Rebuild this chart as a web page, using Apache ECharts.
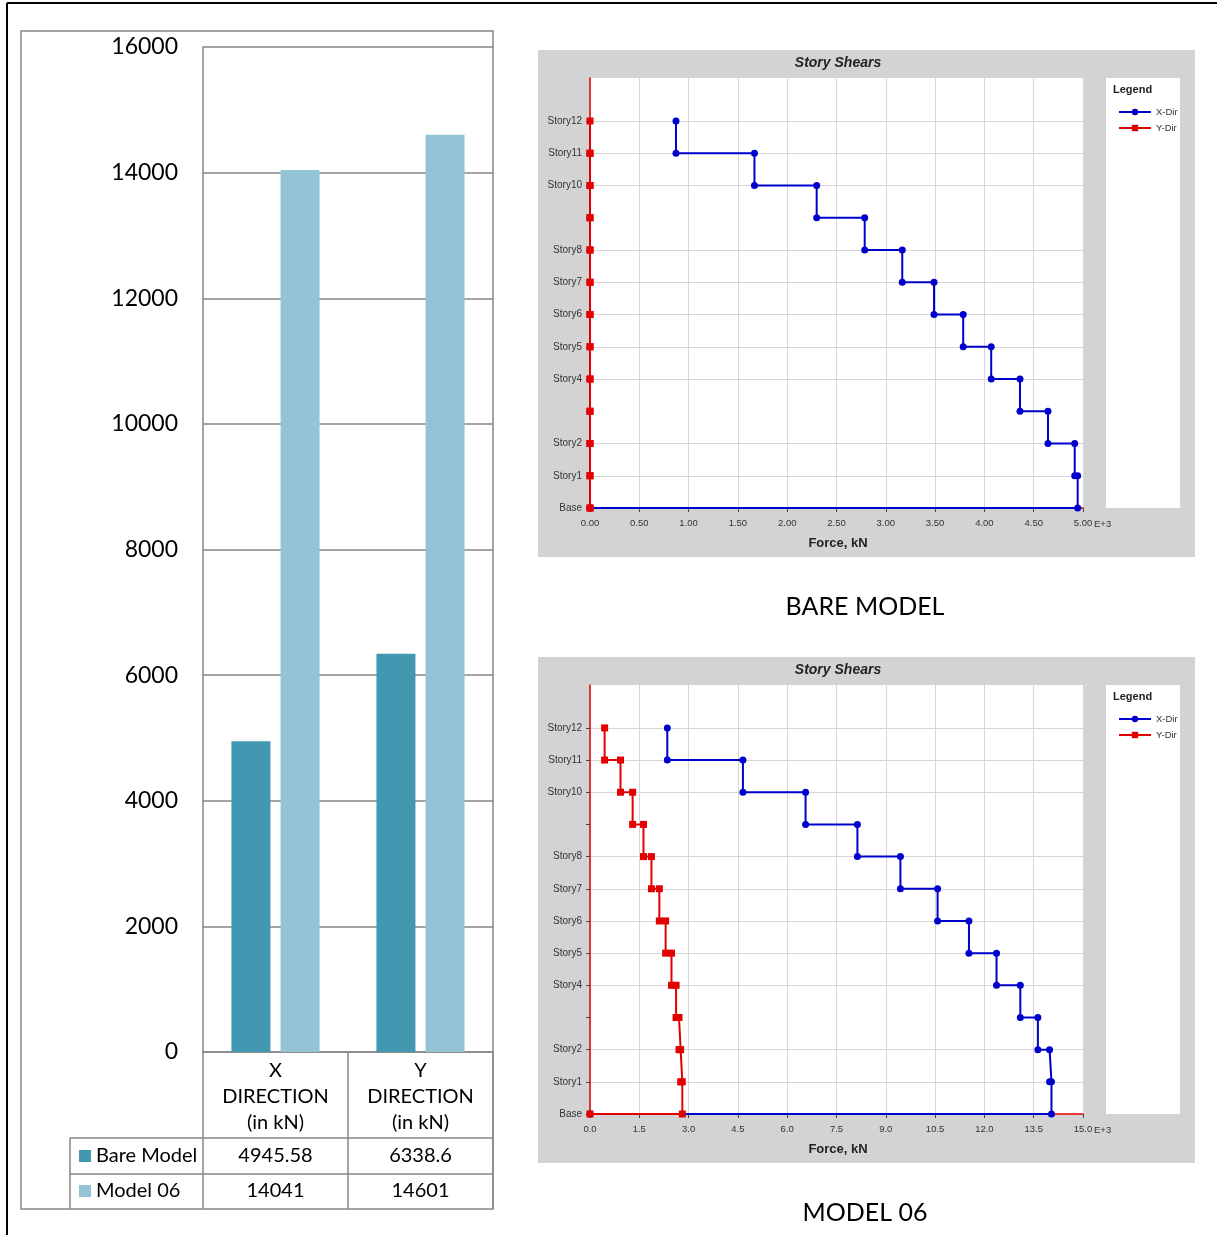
<!DOCTYPE html>
<html>
<head>
<meta charset="utf-8">
<script src="https://cdn.jsdelivr.net/npm/echarts@6/dist/echarts.min.js"></script>
<style>
html,body{margin:0;padding:0;background:#fff;}
#chart{width:1217px;height:1235px;}
</style>
</head>
<body>
<div id="chart"></div>
<script>
// ---- Bar chart data (Excel chart with data table) ----
const categories = ['X\nDIRECTION\n(in kN)', 'Y\nDIRECTION\n(in kN)'];
const seriesNames = ['Bare Model', 'Model 06'];
const bareModel = [4945.58, 6338.6];
const model06 = [14041, 14601];

// ---- Story shear data (value per story, Story1..Story12) ----
const storyLabels = ['Base','Story1','Story2','','Story4','Story5','Story6','Story7','Story8','','Story10','Story11','Story12'];
const bareXDir = [4946, 4916, 4645, 4361, 4069, 3785, 3489, 3167, 2786, 2299, 1668, 872];
const bareYDir = [0, 0, 0, 0, 0, 0, 0, 0, 0, 0, 0, 0];
const m06XDir = [14041, 13983, 13627, 13093, 12369, 11530, 10576, 9445, 8136, 6559, 4653, 2352];
const m06YDir = [2809, 2758, 2708, 2619, 2479, 2301, 2110, 1869, 1627, 1297, 928, 445];
const panelCaptions = ['BARE MODEL', 'MODEL 06'];

const DARK = '#4298b0', LIGHT = '#93c4d5', GRID = '#868686';
const BLUE = '#0000cc', RED = '#e30000';

function stepPoints(v) {
  const pts = [[0, 0]];
  for (let i = 0; i < v.length; i++) {
    pts.push([v[i], i]);
    pts.push([v[i], i + 1]);
  }
  return pts;
}

const chart = echarts.init(document.getElementById('chart'), null, {renderer: 'canvas'});

const FONT = 'Lato';
const ARIAL = '"Liberation Sans", Arial';

// story axis: third-of-a-level slots from 0 to 40/3 (top of plot)
const SUB = 3, SLOTS = 40;
const levelSlots = [];
for (let i = 0; i <= SLOTS; i++) levelSlots.push('L' + i);
function isLevel(i) { return i % SUB === 0 && i / SUB < storyLabels.length; }
function isGridLevel(i) { return isLevel(i) && i > 0 && storyLabels[i / SUB] !== ''; }

function storyValueAxis(gridIndex) {
  return {type: 'value', gridIndex: gridIndex, position: 'left', offset: 0, min: 0, max: SLOTS / SUB, show: false};
}
function storyCatAxis(gridIndex) {
  return {
    type: 'category', gridIndex: gridIndex, position: 'left', offset: 0, data: levelSlots, boundaryGap: false,
    axisLine: {show: true, onZero: false, lineStyle: {color: RED, width: 1.5}},
    axisTick: {show: true, length: 4, interval: function (i) { return isLevel(i); }, lineStyle: {color: '#444'}},
    splitLine: {show: true, interval: function (i) { return isGridLevel(i); }, lineStyle: {color: '#d6d6d6', width: 1}},
    axisLabel: {
      margin: 8, fontSize: 10, color: '#333', fontFamily: ARIAL,
      interval: function (i) { return isLevel(i); },
      formatter: function (v, i) { return isLevel(i) ? storyLabels[i / SUB] : ''; }
    }
  };
}
function storyXAxis(gridIndex, max, interval, digits) {
  return {
    type: 'value', gridIndex: gridIndex, position: 'bottom', min: 0, max: max, interval: interval,
    axisLine: {show: true, onZero: false, lineStyle: {color: RED, width: 1.5}},
    axisTick: {show: true, length: 4, lineStyle: {color: '#444'}},
    splitLine: {show: true, lineStyle: {color: '#d6d6d6', width: 1}},
    axisLabel: {
      margin: 10, fontSize: 9.5, color: '#333', fontFamily: ARIAL,
      formatter: function (v) { return (v / 1000).toFixed(digits); }
    }
  };
}
function storySeries(name, data, color, symbol, xi, yi) {
  return {
    type: 'line', name: name, xAxisIndex: xi, yAxisIndex: yi,
    data: stepPoints(data), color: color,
    lineStyle: {color: color, width: 2},
    itemStyle: {color: color},
    symbol: symbol, symbolSize: 7, showAllSymbol: true,
    animation: false, z: name === 'Y-Dir' ? 4 : 3
  };
}

const graphics = [];
// outer black frame (top & left visible)
graphics.push({type: 'line', shape: {x1: 7, y1: 3, x2: 1217, y2: 3}, style: {stroke: '#000', lineWidth: 2}});
graphics.push({type: 'line', shape: {x1: 7, y1: 3, x2: 7, y2: 1235}, style: {stroke: '#000', lineWidth: 2}});
// Excel chart area border
graphics.push({type: 'rect', shape: {x: 21, y: 31, width: 472, height: 1178}, style: {fill: null, stroke: GRID, lineWidth: 1.5}});
// data table lines
graphics.push({type: 'line', shape: {x1: 70, y1: 1138, x2: 493, y2: 1138}, style: {stroke: GRID, lineWidth: 1.5}});
graphics.push({type: 'line', shape: {x1: 70, y1: 1174, x2: 493, y2: 1174}, style: {stroke: GRID, lineWidth: 1.5}});
graphics.push({type: 'line', shape: {x1: 70, y1: 1138, x2: 70, y2: 1209}, style: {stroke: GRID, lineWidth: 1.5}});
// data table rows
const rowVals = [bareModel, model06];
const rowColors = [DARK, LIGHT];
const rowY = [1156, 1191];
const colX = [275.5, 420.5];
for (let r = 0; r < 2; r++) {
  graphics.push({type: 'rect', shape: {x: 79, y: rowY[r] - 6, width: 12, height: 12}, style: {fill: rowColors[r]}});
  graphics.push({type: 'text', x: 96, y: rowY[r], style: {text: seriesNames[r], fontSize: 20, fontFamily: FONT, fill: '#000', textAlign: 'left', textVerticalAlign: 'middle', align: 'left', verticalAlign: 'middle'}});
  for (let c = 0; c < 2; c++) {
    graphics.push({type: 'text', x: colX[c], y: rowY[r], style: {text: String(rowVals[r][c]), fontSize: 20, fontFamily: FONT, fill: '#000', textAlign: 'center', textVerticalAlign: 'middle', align: 'center', verticalAlign: 'middle'}});
  }
}
// story shear panels
const panels = [
  {top: 50, bottom: 557, plotTop: 78, plotBottom: 508},
  {top: 657, bottom: 1163, plotTop: 685, plotBottom: 1114}
];
panels.forEach(function (p, k) {
  graphics.push({type: 'rect', z: -20, shape: {x: 538, y: p.top, width: 657, height: p.bottom - p.top}, style: {fill: '#d3d3d3'}});
  graphics.push({type: 'rect', z: -19, shape: {x: 590, y: p.plotTop, width: 493, height: p.plotBottom - p.plotTop}, style: {fill: '#fff'}});
  graphics.push({type: 'rect', z: -19, shape: {x: 1106, y: p.plotTop, width: 74, height: p.plotBottom - p.plotTop}, style: {fill: '#fff'}});
  graphics.push({type: 'text', x: 838, y: p.top + 13, style: {text: 'Story Shears', fontSize: 14, fontWeight: 'bold', fontStyle: 'italic', fontFamily: ARIAL, fill: '#222', textAlign: 'center', textVerticalAlign: 'middle', align: 'center', verticalAlign: 'middle'}});
  graphics.push({type: 'text', x: 838, y: p.plotBottom + 35, style: {text: 'Force, kN', fontSize: 13, fontWeight: 'bold', fontFamily: ARIAL, fill: '#222', textAlign: 'center', textVerticalAlign: 'middle', align: 'center', verticalAlign: 'middle'}});
  graphics.push({type: 'text', x: 1094, y: p.plotBottom + 16, style: {text: 'E+3', fontSize: 9.5, fontFamily: ARIAL, fill: '#333', textAlign: 'left', textVerticalAlign: 'middle', align: 'left', verticalAlign: 'middle'}});
  graphics.push({type: 'text', x: 1113, y: p.plotTop + 12, style: {text: 'Legend', fontSize: 11, fontWeight: 'bold', fontFamily: ARIAL, fill: '#222', textAlign: 'left', textVerticalAlign: 'middle', align: 'left', verticalAlign: 'middle'}});
  graphics.push({type: 'text', x: 865, y: k === 0 ? 607 : 1213, style: {text: panelCaptions[k], fontSize: 25, fontFamily: FONT, fill: '#000', textAlign: 'center', textVerticalAlign: 'middle', align: 'center', verticalAlign: 'middle'}});
});

const legendCommon = {data: ['X-Dir', 'Y-Dir'], orient: 'vertical', left: 1113, itemWidth: 32, itemHeight: 8, itemGap: 6, textStyle: {fontSize: 9.5, color: '#333', fontFamily: ARIAL}, selectedMode: false};

const option = {
  backgroundColor: '#fff',
  animation: false,
  textStyle: {fontFamily: FONT},
  grid: [
    {left: 203, top: 47, width: 290, height: 1005, containLabel: false},
    {left: 590, top: 78, width: 493, height: 430, containLabel: false},
    {left: 590, top: 685, width: 493, height: 429, containLabel: false}
  ],
  legend: [
    Object.assign({top: 102}, legendCommon),
    Object.assign({top: 709}, legendCommon)
  ],
  xAxis: [
    {
      type: 'category', gridIndex: 0, data: categories, boundaryGap: true,
      axisLine: {show: true, lineStyle: {color: GRID, width: 1.5}},
      axisTick: {show: true, inside: false, length: 157, lineStyle: {color: GRID, width: 1.5}},
      axisLabel: {interval: 0, margin: 6, fontSize: 20, lineHeight: 26, color: '#000', fontFamily: FONT, align: 'center'},
      splitLine: {show: false}
    },
    storyXAxis(1, 5000, 500, 2),
    storyXAxis(2, 15000, 1500, 1)
  ],
  yAxis: [
    {
      type: 'value', gridIndex: 0, min: 0, max: 16000, interval: 2000,
      axisLine: {show: true, lineStyle: {color: GRID, width: 1.5}},
      axisTick: {show: false},
      splitLine: {show: true, lineStyle: {color: GRID, width: 1.5}},
      axisLabel: {margin: 25, fontSize: 23, color: '#000', fontFamily: FONT, formatter: function (v) { return String(v); }}
    },
    storyValueAxis(1),
    storyCatAxis(1),
    storyValueAxis(2),
    storyCatAxis(2)
  ],
  series: [
    {type: 'bar', name: seriesNames[0], xAxisIndex: 0, yAxisIndex: 0, data: bareModel, barWidth: 39, barGap: '26%', itemStyle: {color: DARK}},
    {type: 'bar', name: seriesNames[1], xAxisIndex: 0, yAxisIndex: 0, data: model06, barWidth: 39, barGap: '26%', itemStyle: {color: LIGHT}},
    storySeries('X-Dir', bareXDir, BLUE, 'circle', 1, 1),
    storySeries('Y-Dir', bareYDir, RED, 'rect', 1, 1),
    storySeries('X-Dir', m06XDir, BLUE, 'circle', 2, 3),
    storySeries('Y-Dir', m06YDir, RED, 'rect', 2, 3)
  ],
  graphic: {elements: graphics}
};
chart.setOption(option);
</script>
</body>
</html>
